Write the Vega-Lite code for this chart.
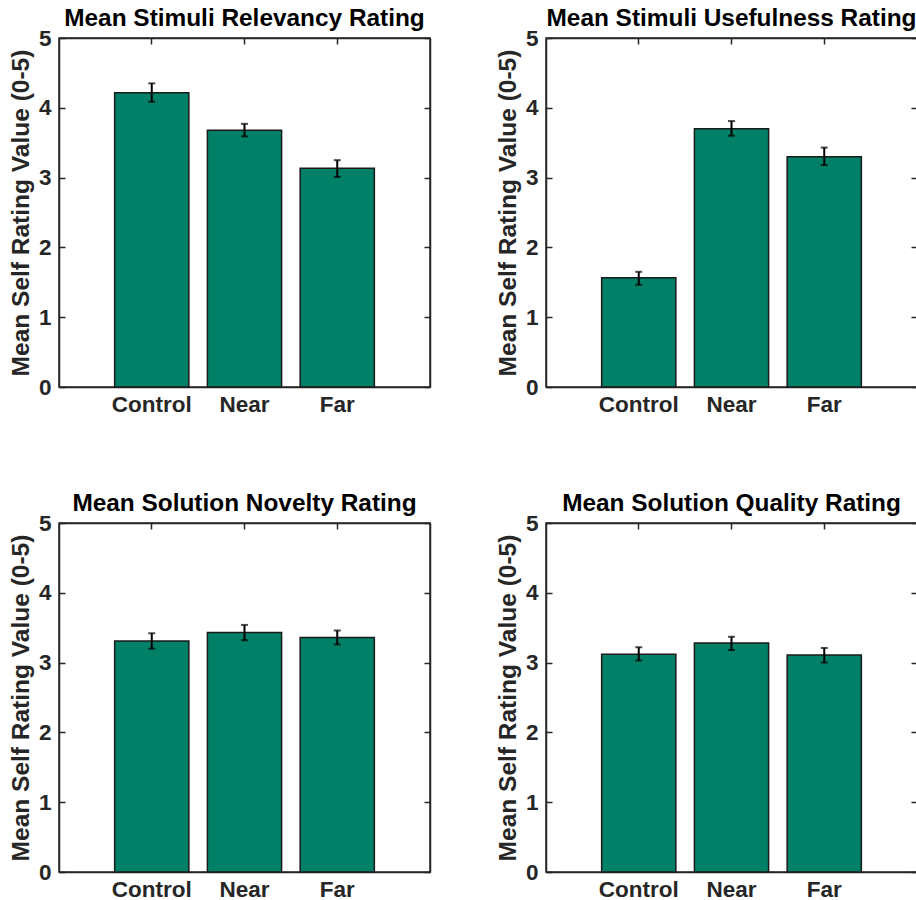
{
  "$schema": "https://vega.github.io/schema/vega-lite/v6.json",
  "background": "white",
  "padding": {"left": 7, "top": 4, "right": 0, "bottom": 0},
  "datasets": {
    "ratings": [
      {"panel": "relevancy", "cond": "Control", "mean": 4.215, "lo": 4.086, "hi": 4.35},
      {"panel": "relevancy", "cond": "Near", "mean": 3.68, "lo": 3.59, "hi": 3.77},
      {"panel": "relevancy", "cond": "Far", "mean": 3.134, "lo": 3.01, "hi": 3.25},
      {"panel": "usefulness", "cond": "Control", "mean": 1.565, "lo": 1.464, "hi": 1.65},
      {"panel": "usefulness", "cond": "Near", "mean": 3.70, "lo": 3.60, "hi": 3.81},
      {"panel": "usefulness", "cond": "Far", "mean": 3.30, "lo": 3.18, "hi": 3.43},
      {"panel": "novelty", "cond": "Control", "mean": 3.31, "lo": 3.20, "hi": 3.42},
      {"panel": "novelty", "cond": "Near", "mean": 3.43, "lo": 3.32, "hi": 3.54},
      {"panel": "novelty", "cond": "Far", "mean": 3.36, "lo": 3.26, "hi": 3.46},
      {"panel": "quality", "cond": "Control", "mean": 3.12, "lo": 3.03, "hi": 3.22},
      {"panel": "quality", "cond": "Near", "mean": 3.28, "lo": 3.18, "hi": 3.37},
      {"panel": "quality", "cond": "Far", "mean": 3.11, "lo": 3.00, "hi": 3.21}
    ]
  },
  "data": {"name": "ratings"},
  "columns": 2,
  "spacing": {"row": 136, "column": 116},
  "bounds": "flush",
  "config": {
    "font": "Liberation Sans",
    "view": {"stroke": "#262626", "strokeWidth": 1.5},
    "title": {"fontSize": 24.4, "fontWeight": "bold", "color": "#000000", "anchor": "middle", "frame": "group", "offset": -4, "font": "Liberation Sans"},
    "axis": {
      "grid": false,
      "domainColor": "#262626",
      "domainWidth": 1.5,
      "tickColor": "#262626",
      "tickWidth": 1.5,
      "tickSize": -6,
      "labelPadding": 14,
      "labelFont": "Liberation Sans",
      "labelFontSize": 22.5,
      "labelFontWeight": "bold",
      "labelColor": "#262626",
      "titleFont": "Liberation Sans",
      "titleFontSize": 24.5,
      "titleFontWeight": "bold",
      "titleColor": "#262626"
    }
  },
  "concat": [
    {
      "title": "Mean Stimuli Relevancy Rating",
      "width": 371, "height": 349,
      "transform": [{"filter": "datum.panel == 'relevancy'"}],
      "resolve": {"axis": {"x": "independent", "y": "independent"}},
      "layer": [
        {"mark": {"type": "bar", "fill": "#008066", "stroke": "#1a1a1a", "strokeWidth": 1.5},
         "encoding": {
           "x": {"field": "cond", "type": "nominal", "sort": ["Control", "Near", "Far"], "scale": {"paddingInner": 0.2, "paddingOuter": 0.6}, "axis": {"orient": "bottom", "title": null, "labelAngle": 0, "labelPadding": 12}},
           "y": {"field": "mean", "type": "quantitative", "scale": {"domain": [0, 5], "nice": false}, "axis": {"orient": "left", "values": [0, 1, 2, 3, 4, 5], "title": "Mean Self Rating Value (0-5)", "titlePadding": 5}}
         }},
        {"mark": {"type": "rule", "color": "#000000", "strokeWidth": 2},
         "encoding": {
           "x": {"field": "cond", "type": "nominal", "sort": ["Control", "Near", "Far"], "axis": {"orient": "top", "title": null, "labels": false}},
           "y": {"field": "lo", "type": "quantitative", "axis": {"orient": "right", "title": null, "labels": false, "values": [0, 1, 2, 3, 4, 5]}},
           "y2": {"field": "hi"}
         }},
        {"mark": {"type": "tick", "color": "#000000", "thickness": 2, "size": 7},
         "encoding": {
           "x": {"field": "cond", "type": "nominal", "sort": ["Control", "Near", "Far"], "axis": null},
           "y": {"field": "lo", "type": "quantitative", "axis": null}
         }},
        {"mark": {"type": "tick", "color": "#000000", "thickness": 2, "size": 7},
         "encoding": {
           "x": {"field": "cond", "type": "nominal", "sort": ["Control", "Near", "Far"], "axis": null},
           "y": {"field": "hi", "type": "quantitative", "axis": null}
         }}
      ]
    },
    {
      "title": "Mean Stimuli Usefulness Rating",
      "width": 371, "height": 349,
      "transform": [{"filter": "datum.panel == 'usefulness'"}],
      "resolve": {"axis": {"x": "independent", "y": "independent"}},
      "layer": [
        {"mark": {"type": "bar", "fill": "#008066", "stroke": "#1a1a1a", "strokeWidth": 1.5},
         "encoding": {
           "x": {"field": "cond", "type": "nominal", "sort": ["Control", "Near", "Far"], "scale": {"paddingInner": 0.2, "paddingOuter": 0.6}, "axis": {"orient": "bottom", "title": null, "labelAngle": 0, "labelPadding": 12}},
           "y": {"field": "mean", "type": "quantitative", "scale": {"domain": [0, 5], "nice": false}, "axis": {"orient": "left", "values": [0, 1, 2, 3, 4, 5], "title": "Mean Self Rating Value (0-5)", "titlePadding": 5}}
         }},
        {"mark": {"type": "rule", "color": "#000000", "strokeWidth": 2},
         "encoding": {
           "x": {"field": "cond", "type": "nominal", "sort": ["Control", "Near", "Far"], "axis": {"orient": "top", "title": null, "labels": false}},
           "y": {"field": "lo", "type": "quantitative", "axis": {"orient": "right", "title": null, "labels": false, "values": [0, 1, 2, 3, 4, 5]}},
           "y2": {"field": "hi"}
         }},
        {"mark": {"type": "tick", "color": "#000000", "thickness": 2, "size": 7},
         "encoding": {
           "x": {"field": "cond", "type": "nominal", "sort": ["Control", "Near", "Far"], "axis": null},
           "y": {"field": "lo", "type": "quantitative", "axis": null}
         }},
        {"mark": {"type": "tick", "color": "#000000", "thickness": 2, "size": 7},
         "encoding": {
           "x": {"field": "cond", "type": "nominal", "sort": ["Control", "Near", "Far"], "axis": null},
           "y": {"field": "hi", "type": "quantitative", "axis": null}
         }}
      ]
    },
    {
      "title": "Mean Solution Novelty Rating",
      "width": 371, "height": 349,
      "transform": [{"filter": "datum.panel == 'novelty'"}],
      "resolve": {"axis": {"x": "independent", "y": "independent"}},
      "layer": [
        {"mark": {"type": "bar", "fill": "#008066", "stroke": "#1a1a1a", "strokeWidth": 1.5},
         "encoding": {
           "x": {"field": "cond", "type": "nominal", "sort": ["Control", "Near", "Far"], "scale": {"paddingInner": 0.2, "paddingOuter": 0.6}, "axis": {"orient": "bottom", "title": null, "labelAngle": 0, "labelPadding": 12}},
           "y": {"field": "mean", "type": "quantitative", "scale": {"domain": [0, 5], "nice": false}, "axis": {"orient": "left", "values": [0, 1, 2, 3, 4, 5], "title": "Mean Self Rating Value (0-5)", "titlePadding": 5}}
         }},
        {"mark": {"type": "rule", "color": "#000000", "strokeWidth": 2},
         "encoding": {
           "x": {"field": "cond", "type": "nominal", "sort": ["Control", "Near", "Far"], "axis": {"orient": "top", "title": null, "labels": false}},
           "y": {"field": "lo", "type": "quantitative", "axis": {"orient": "right", "title": null, "labels": false, "values": [0, 1, 2, 3, 4, 5]}},
           "y2": {"field": "hi"}
         }},
        {"mark": {"type": "tick", "color": "#000000", "thickness": 2, "size": 7},
         "encoding": {
           "x": {"field": "cond", "type": "nominal", "sort": ["Control", "Near", "Far"], "axis": null},
           "y": {"field": "lo", "type": "quantitative", "axis": null}
         }},
        {"mark": {"type": "tick", "color": "#000000", "thickness": 2, "size": 7},
         "encoding": {
           "x": {"field": "cond", "type": "nominal", "sort": ["Control", "Near", "Far"], "axis": null},
           "y": {"field": "hi", "type": "quantitative", "axis": null}
         }}
      ]
    },
    {
      "title": "Mean Solution Quality Rating",
      "width": 371, "height": 349,
      "transform": [{"filter": "datum.panel == 'quality'"}],
      "resolve": {"axis": {"x": "independent", "y": "independent"}},
      "layer": [
        {"mark": {"type": "bar", "fill": "#008066", "stroke": "#1a1a1a", "strokeWidth": 1.5},
         "encoding": {
           "x": {"field": "cond", "type": "nominal", "sort": ["Control", "Near", "Far"], "scale": {"paddingInner": 0.2, "paddingOuter": 0.6}, "axis": {"orient": "bottom", "title": null, "labelAngle": 0, "labelPadding": 12}},
           "y": {"field": "mean", "type": "quantitative", "scale": {"domain": [0, 5], "nice": false}, "axis": {"orient": "left", "values": [0, 1, 2, 3, 4, 5], "title": "Mean Self Rating Value (0-5)", "titlePadding": 5}}
         }},
        {"mark": {"type": "rule", "color": "#000000", "strokeWidth": 2},
         "encoding": {
           "x": {"field": "cond", "type": "nominal", "sort": ["Control", "Near", "Far"], "axis": {"orient": "top", "title": null, "labels": false}},
           "y": {"field": "lo", "type": "quantitative", "axis": {"orient": "right", "title": null, "labels": false, "values": [0, 1, 2, 3, 4, 5]}},
           "y2": {"field": "hi"}
         }},
        {"mark": {"type": "tick", "color": "#000000", "thickness": 2, "size": 7},
         "encoding": {
           "x": {"field": "cond", "type": "nominal", "sort": ["Control", "Near", "Far"], "axis": null},
           "y": {"field": "lo", "type": "quantitative", "axis": null}
         }},
        {"mark": {"type": "tick", "color": "#000000", "thickness": 2, "size": 7},
         "encoding": {
           "x": {"field": "cond", "type": "nominal", "sort": ["Control", "Near", "Far"], "axis": null},
           "y": {"field": "hi", "type": "quantitative", "axis": null}
         }}
      ]
    }
  ]
}
